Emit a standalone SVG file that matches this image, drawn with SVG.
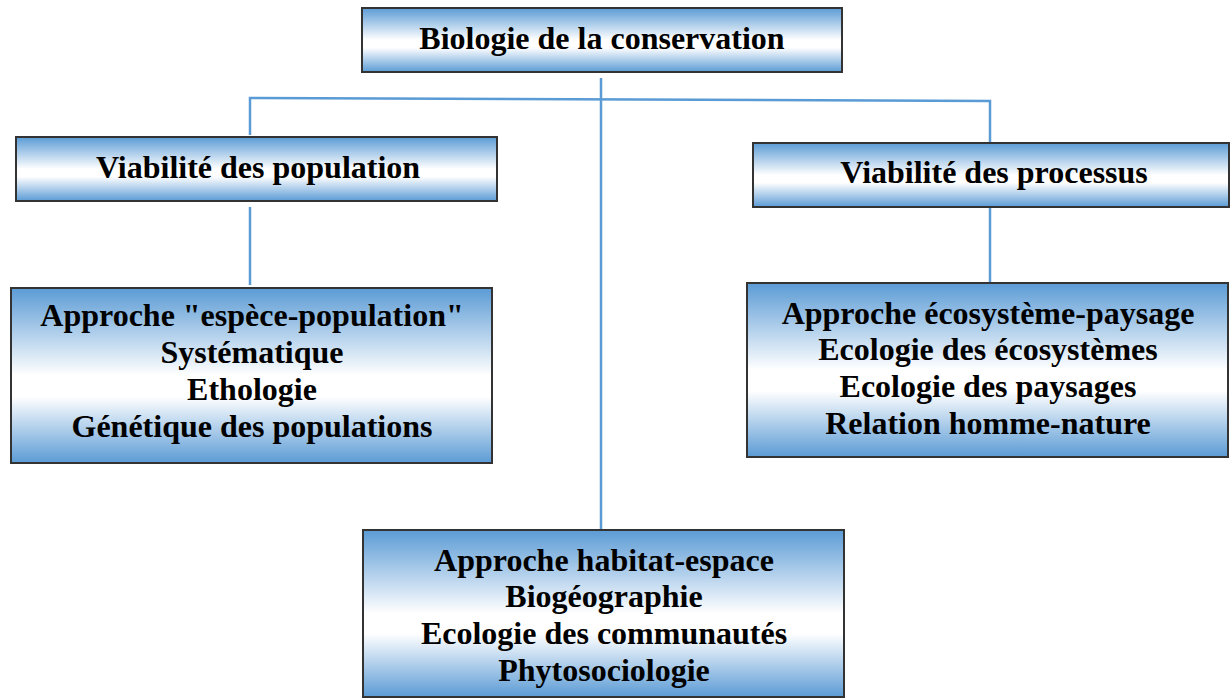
<svg xmlns="http://www.w3.org/2000/svg" width="1231" height="698" viewBox="0 0 1231 698">
<defs>
<linearGradient id="g" x1="0" y1="0" x2="0" y2="1">
<stop offset="0" stop-color="#5b9bd5"/>
<stop offset="0.5" stop-color="#ffffff"/>
<stop offset="0.62" stop-color="#ffffff"/>
<stop offset="1" stop-color="#5b9bd5"/>
</linearGradient>
<style>
.box{fill:url(#g);stroke:#333;stroke-width:2}
.t{font-family:"Liberation Serif","Times New Roman",serif;font-weight:bold;font-size:32px;fill:#000;text-anchor:middle}
.c{fill:none;stroke:#5b9bd5;stroke-width:2.5}
</style>
</defs>
<g id="connectors">
<polyline class="c" points="250,135 250,98 990,101 990,143"/>
<line class="c" x1="601" y1="78" x2="601" y2="530"/>
<line class="c" x1="250" y1="207" x2="250" y2="285"/>
<line class="c" x1="990" y1="207" x2="990" y2="283"/>
</g>
<g id="root">
<rect class="box" x="362" y="8" width="480" height="64"/>
<text class="t" x="602" y="49">Biologie de la conservation</text>
</g>
<g id="pop">
<rect class="box" x="16" y="137" width="481" height="64"/>
<text class="t" x="258" y="178">Viabilité des population</text>
</g>
<g id="proc">
<rect class="box" x="753" y="143" width="476" height="64"/>
<text class="t" x="994" y="183">Viabilité des processus</text>
</g>
<g id="espece">
<rect class="box" x="11" y="288" width="481" height="175"/>
<text class="t" x="252" y="326">Approche "espèce-population"</text>
<text class="t" x="252" y="363">Systématique</text>
<text class="t" x="252" y="400">Ethologie</text>
<text class="t" x="252" y="437">Génétique des populations</text>
</g>
<g id="ecosys">
<rect class="box" x="747" y="283" width="481" height="174"/>
<text class="t" x="988" y="324">Approche écosystème-paysage</text>
<text class="t" x="988" y="360">Ecologie des écosystèmes</text>
<text class="t" x="988" y="397">Ecologie des paysages</text>
<text class="t" x="988" y="434">Relation homme-nature</text>
</g>
<g id="habitat">
<rect class="box" x="363" y="530" width="481" height="167"/>
<text class="t" x="604" y="571">Approche habitat-espace</text>
<text class="t" x="604" y="607">Biogéographie</text>
<text class="t" x="604" y="644">Ecologie des communautés</text>
<text class="t" x="604" y="681">Phytosociologie</text>
</g>
</svg>
